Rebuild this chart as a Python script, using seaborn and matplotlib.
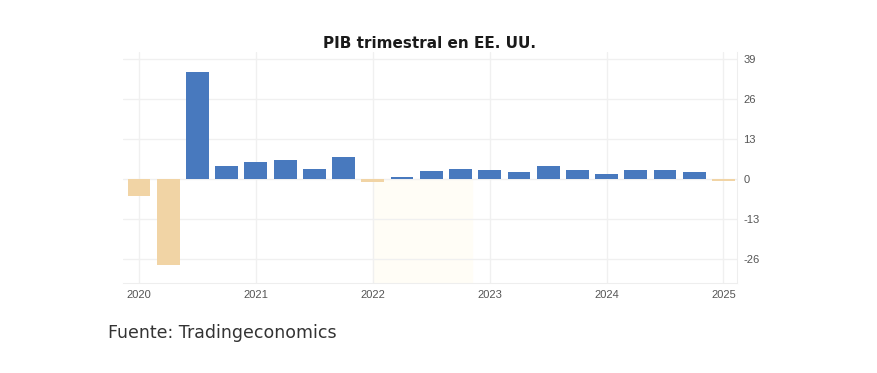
import pandas as pd
import matplotlib.pyplot as plt
import seaborn as sns

# === Datos: PIB trimestral EE. UU. (variación trimestral anualizada, %) ===
trimestres = ["2020T1", "2020T2", "2020T3", "2020T4",
              "2021T1", "2021T2", "2021T3", "2021T4",
              "2022T1", "2022T2", "2022T3", "2022T4",
              "2023T1", "2023T2", "2023T3", "2023T4",
              "2024T1", "2024T2", "2024T3", "2024T4",
              "2025T1"]
valores = [-5.5, -28.0, 34.8, 4.2,
           5.4, 6.3, 3.4, 7.2,
           -1.0, 0.5, 2.6, 3.4,
           2.8, 2.2, 4.2, 3.0,
           1.6, 2.8, 3.0, 2.4,
           -0.5]
anios = ["2020", "2021", "2022", "2023", "2024", "2025"]
yticks = [39, 26, 13, 0, -13, -26]

df = pd.DataFrame({"trimestre": trimestres, "valor": valores})
df["signo"] = ["pos" if v >= 0 else "neg" for v in df["valor"]]

sns.set_style("white")
plt.rcParams["font.family"] = ["DejaVu Sans"]

fig = plt.figure(figsize=(8.78, 3.73), dpi=100)
ax = fig.add_axes([0.140, 0.241, 0.699, 0.620])

# zona sombreada muy tenue (2022)
ax.axvspan(8, 11.4, ymin=0, ymax=33.8 / (41.3 + 33.8), color="#fffdf6", zorder=0)

sns.barplot(data=df, x="trimestre", y="valor", hue="signo",
            palette={"pos": "#4879be", "neg": "#f1d4a5"},
            dodge=False, width=0.78, saturation=1, linewidth=0,
            legend=False, ax=ax, zorder=3)

ax.set_xlim(-0.55, 20.45)
ax.set_ylim(-33.8, 41.3)

ax.set_xticks(range(0, len(trimestres), 4))
ax.set_xticklabels(anios, fontsize=8, color="#555555", family="Liberation Sans")
ax.yaxis.tick_right()
ax.set_yticks(yticks)
ax.set_yticklabels([str(t) for t in yticks], fontsize=8, color="#555555",
                   family="Liberation Sans")
ax.tick_params(axis="both", length=0, pad=5)

ax.grid(True, color="#f0f0f0", linewidth=1.0, zorder=0)
ax.set_axisbelow(True)
for s in ["top", "left"]:
    ax.spines[s].set_visible(False)
for s in ["right", "bottom"]:
    ax.spines[s].set_color("#eeeeee")

ax.set_xlabel("")
ax.set_ylabel("")
ax.set_title("PIB trimestral en EE. UU.", fontsize=11, fontweight="bold",
             color="#1a1a1a", pad=3)

fig.text(108 / 878, 1 - 333 / 373, "Fuente: Tradingeconomics",
         fontsize=12.5, color="#333333", va="center", ha="left")

fig.savefig("out.png", dpi=100)
plt.close(fig)
